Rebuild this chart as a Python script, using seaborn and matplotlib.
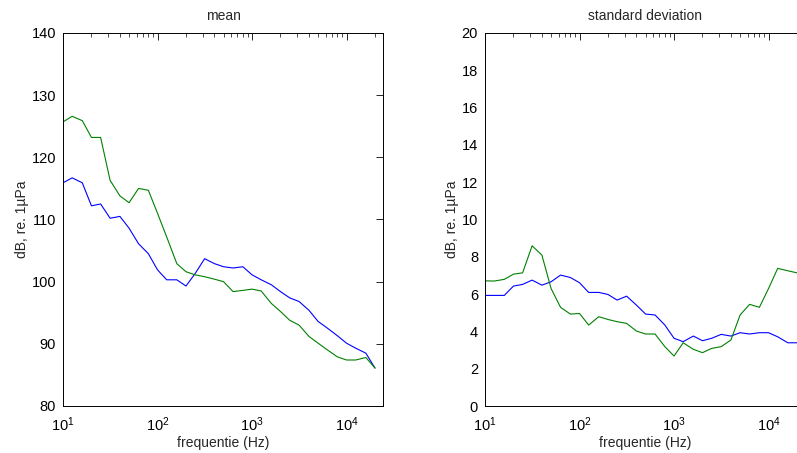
import numpy as np
import pandas as pd
import matplotlib
matplotlib.use('Agg')
import matplotlib.pyplot as plt
import seaborn as sns
from matplotlib.ticker import LogLocator, NullFormatter

sns.set_style('white')
plt.rcParams['font.family'] = ['Liberation Sans', 'DejaVu Sans']
plt.rcParams['mathtext.fontset'] = 'custom'
plt.rcParams['mathtext.rm'] = 'Liberation Sans'
plt.rcParams['mathtext.default'] = 'regular'

# third-octave band centre frequencies (Hz)
freq = [10, 12.5, 16, 20, 25, 31.5, 40, 50, 63, 80, 100, 125, 160, 200, 250,
        315, 400, 500, 630, 800, 1000, 1250, 1600, 2000, 2500, 3150, 4000,
        5000, 6300, 8000, 10000, 12500, 16000, 20000]

mean_blue = [115.9, 116.7, 115.9, 112.2, 112.5, 110.2, 110.5, 108.6, 106.1, 104.5,
             101.9, 100.3, 100.3, 99.3, 101.3, 103.7, 102.9, 102.4, 102.2, 102.4,
             101.1, 100.3, 99.5, 98.4, 97.4, 96.8, 95.4, 93.6, 92.5, 91.3,
             90.1, 89.3, 88.5, 86.1]
mean_green = [125.7, 126.6, 125.9, 123.2, 123.2, 116.3, 113.8, 112.7, 115.0, 114.7,
              111.0, 107.2, 102.9, 101.6, 101.1, 100.8, 100.4, 100.0, 98.4, 98.6,
              98.8, 98.5, 96.5, 95.2, 93.8, 93.0, 91.2, 90.1, 89.0, 87.9,
              87.4, 87.4, 87.8, 86.1]

std_blue = [5.93, 5.93, 5.93, 6.43, 6.52, 6.75, 6.48, 6.66, 7.02, 6.89,
            6.61, 6.09, 6.09, 5.98, 5.68, 5.89, 5.41, 4.93, 4.88, 4.34,
            3.63, 3.45, 3.75, 3.50, 3.63, 3.84, 3.75, 3.93, 3.86, 3.93,
            3.93, 3.71, 3.39, 3.39]
std_green = [6.71, 6.70, 6.79, 7.07, 7.14, 8.59, 8.09, 6.30, 5.29, 4.93,
             4.96, 4.34, 4.79, 4.64, 4.52, 4.43, 4.02, 3.86, 3.86, 3.18,
             2.68, 3.39, 3.04, 2.86, 3.09, 3.18, 3.54, 4.88, 5.45, 5.29,
             6.30, 7.38, 7.25, 7.14]

titles = ['mean', 'standard deviation']
ylims = [(80, 140), (0, 20)]
yticks = [np.arange(80, 141, 10), np.arange(0, 21, 2)]

W, H = 797, 453
fig = plt.figure(figsize=(W / 100, H / 100), dpi=100)
ax1 = fig.add_axes([63 / W, 47 / H, 320 / W, 373 / H])
ax2 = fig.add_axes([485 / W, 47 / H, 320 / W, 373 / H])

for ax, title, blue, green, ylim, yt in zip(
        [ax1, ax2], titles, [mean_blue, std_blue], [mean_green, std_green], ylims, yticks):
    df = pd.DataFrame({'freq': freq, 'blue': blue, 'green': green})
    sns.lineplot(data=df, x='freq', y='blue', ax=ax, color='#0000ff', linewidth=0.8)
    sns.lineplot(data=df, x='freq', y='green', ax=ax, color='#008000', linewidth=0.8)
    ax.set_xscale('log')
    ax.set_xlim(10, 24300)
    ax.set_ylim(*ylim)
    ax.set_yticks(yt)
    ax.xaxis.set_major_locator(LogLocator(base=10, numticks=10))
    ax.xaxis.set_minor_locator(LogLocator(base=10, subs=np.arange(2, 10), numticks=20))
    ax.xaxis.set_minor_formatter(NullFormatter())
    ax.tick_params(which='both', direction='in', top=True, right=True,
                   colors='black', labelsize=10.5)
    ax.tick_params(which='major', length=5, width=0.6)
    ax.tick_params(which='minor', length=3, width=0.5)
    ax.tick_params(axis='x', pad=7)
    ax.tick_params(axis='y', pad=5)
    for s in ax.spines.values():
        s.set_color('black')
        s.set_linewidth(0.7)
    ax.set_title(title, fontsize=10, pad=9)
    ax.set_xlabel('frequentie (Hz)', fontsize=10, labelpad=1)
    ax.set_ylabel('dB, re. 1µPa', fontsize=10, labelpad=2)

fig.savefig('out.png', dpi=100, facecolor='white')
